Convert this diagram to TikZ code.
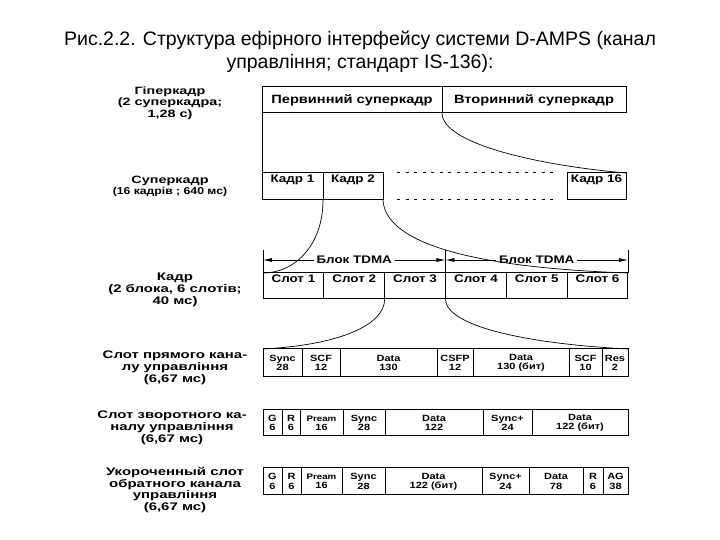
\documentclass[tikz,border=0pt]{standalone}
\usepackage{fontspec}
\setmainfont{Liberation Sans}
\newfontfamily\scanfont[FakeStretch=1.22]{Liberation Sans Bold}
\newfontfamily\widefont[FakeStretch=1.36]{Liberation Sans Bold}
\usetikzlibrary{arrows.meta, positioning}

\begin{document}
\begin{tikzpicture}[
    x=1pt, y=1pt,
    cell/.style={draw, line width=1pt, outer sep=0pt, inner sep=0pt,
                 minimum height=26pt, align=center},
    hyp/.style={cell, font=\scanfont\fontsize{12}{13}\selectfont},
    slot/.style={cell, font=\scanfont\fontsize{11}{12}\selectfont,
                 text height=8pt, text depth=15pt},
    fld/.style={cell, font=\scanfont\fontsize{9}{9.3}\selectfont},
    lbl/.style={align=center, font=\widefont\fontsize{10.6}{11.3}\selectfont},
    biglbl/.style={align=center, font=\widefont\fontsize{11}{11.7}\selectfont},
    link/.style={line width=0.7pt},
    dim/.style={{Latex[length=9pt,width=4pt]}-{Latex[length=9pt,width=4pt]}, line width=0.7pt},
    dots/.style={line width=1pt, dash pattern=on 3pt off 5.5pt}
  ]
  \useasboundingbox (0,0) rectangle (720,540);
  % title
  \node[font=\fontsize{19.5}{23}\selectfont, align=center] (title) at (360,488.5)
    {Рис.2.2. Структура ефірного інтерфейсу системи D-AMPS (канал\\управління; стандарт IS-136):};

  % row labels
  \node[lbl] (lhyp) at (170,437) {Гіперкадр\\(2 суперкадра;\\1,28 с)};
  \node[lbl] (lsup) at (170,354) {Суперкадр\\{\scanfont\fontsize{10}{11.5}\selectfont(16 кадрів ; 640 мс)}};
  \node[biglbl] (lfr)  at (175,250) {Кадр\\(2 блока, 6 слотів;\\40 мс)};
  \node[biglbl] (lfwd) at (175,172) {Слот прямого кана-\\лу управління\\(6,67 мс)};
  \node[biglbl] (lrev) at (172,112) {Слот зворотного ка-\\налу управління\\(6,67 мс)};
  \node[biglbl] (lshr) at (175,50)  {Укороченный слот\\обратного канала\\управління\\(6,67 мс)};

  % hyperframe
  \node[hyp, minimum width=180pt, anchor=south west] (hp1) at (262,427) {Первинний суперкадр};
  \node[hyp, minimum width=184pt, right=0pt of hp1] (hp2) {Вторинний суперкадр};

  % superframe
  \node[slot, minimum height=27pt, minimum width=61pt, anchor=south west] (k1) at (262,340) {Кадр 1};
  \node[slot, minimum height=27pt, minimum width=60pt, right=0pt of k1] (k2) {Кадр 2};
  \node[slot, minimum height=27pt, minimum width=59pt, anchor=south east] (k16) at (626,340) {Кадр 16};
  \draw[dots] ([xshift=14pt]k2.north east) -- ([xshift=-9pt]k16.north west);
  \draw[dots] ([xshift=14pt]k2.south east) -- ([xshift=-9pt]k16.south west);
  \draw[line width=1pt] (hp1.south west) -- (k1.north west);

  % frame: 6 slots
  \node[slot, minimum width=60.83pt, anchor=south west] (s1) at (263,241) {Слот 1};
  \node[slot, minimum width=60.83pt, right=0pt of s1] (s2) {Слот 2};
  \node[slot, minimum width=60.83pt, right=0pt of s2] (s3) {Слот 3};
  \node[slot, minimum width=60.83pt, right=0pt of s3] (s4) {Слот 4};
  \node[slot, minimum width=60.83pt, right=0pt of s4] (s5) {Слот 5};
  \node[slot, minimum width=60.83pt, right=0pt of s5] (s6) {Слот 6};
  \draw[link] (s1.north west) -- ++(0,23);
  \draw[link] (s4.north west) -- ++(0,23);
  \draw[link] (s6.north east) -- ++(0,23);
  \draw[dim] ([yshift=13pt]s1.north west) -- node[fill=white, inner sep=3pt, font=\scanfont\fontsize{11}{12}\selectfont] (tb1) {Блок TDMA} ([yshift=13pt]s3.north east);
  \draw[dim] ([yshift=13pt]s4.north west) -- node[fill=white, inner sep=3pt, font=\scanfont\fontsize{11}{12}\selectfont] (tb2) {Блок TDMA} ([yshift=13pt]s6.north east);

  % forward control channel slot
  \node[fld, minimum height=28pt, minimum width=39pt, anchor=south west] (f1) at (263,163) {Sync\\28};
  \node[fld, minimum height=28pt, minimum width=38pt, right=0pt of f1] (f2) {SCF\\12};
  \node[fld, minimum height=28pt, minimum width=97pt, right=0pt of f2] (f3) {Data\\130};
  \node[fld, minimum height=28pt, minimum width=36pt, right=0pt of f3] (f4) {CSFP\\12};
  \node[fld, minimum height=28pt, minimum width=96pt, right=0pt of f4] (f5) {Data\\130 (бит)};
  \node[fld, minimum height=28pt, minimum width=33pt, right=0pt of f5] (f6) {SCF\\10};
  \node[fld, minimum height=28pt, minimum width=26pt, right=0pt of f6] (f7) {Res\\2};

  % reverse control channel slot
  \node[fld, minimum width=19pt, anchor=south west] (r1) at (263,104) {G\\6};
  \node[fld, minimum width=18pt, right=0pt of r1] (r2) {R\\6};
  \node[fld, minimum width=43pt, right=0pt of r2] (r3) {\fontsize{8}{9.3}\selectfont Pream\\16};
  \node[fld, minimum width=42pt, right=0pt of r3] (r4) {Sync\\28};
  \node[fld, minimum width=98pt, right=0pt of r4] (r5) {Data\\122};
  \node[fld, minimum width=49pt, right=0pt of r5] (r6) {Sync+\\24};
  \node[fld, minimum width=96pt, right=0pt of r6] (r7) {Data\\122 (бит)};

  % abbreviated reverse slot
  \node[fld, minimum height=27pt, minimum width=19pt, anchor=south west] (a1) at (263,45) {G\\6};
  \node[fld, minimum height=27pt, minimum width=19pt, right=0pt of a1] (a2) {R\\6};
  \node[fld, minimum height=27pt, minimum width=41pt, right=0pt of a2] (a3) {\fontsize{8}{9.3}\selectfont Pream\\16};
  \node[fld, minimum height=27pt, minimum width=43pt, right=0pt of a3] (a4) {Sync\\28};
  \node[fld, minimum height=27pt, minimum width=97pt, right=0pt of a4] (a5) {Data\\122 (бит)};
  \node[fld, minimum height=27pt, minimum width=47pt, right=0pt of a5] (a6) {Sync+\\24};
  \node[fld, minimum height=27pt, minimum width=54pt, right=0pt of a6] (a7) {Data\\78};
  \node[fld, minimum height=27pt, minimum width=20pt, right=0pt of a7] (a8) {R\\6};
  \node[fld, minimum height=27pt, minimum width=25pt, right=0pt of a8] (a9) {AG\\38};

  % expansion curves
  \draw[link] (hp2.south west) to[out=-90, in=175, out distance=30pt, in distance=92pt] (k16.north east);
  \draw[link] (k1.south east) to[out=-90, in=0, out distance=45pt, in distance=32pt] (s1.north west);
  \draw[link] (k2.south east) to[out=-87, in=178, out distance=40pt, in distance=168pt] (s6.north east);
  \draw[link] (s2.south east) to[out=-90, in=3, out distance=26pt, in distance=77pt] (f1.north west);
  \draw[link] (s3.south east) to[out=-90, in=177, out distance=26pt, in distance=108pt] (f7.north east);
\end{tikzpicture}
\end{document}
